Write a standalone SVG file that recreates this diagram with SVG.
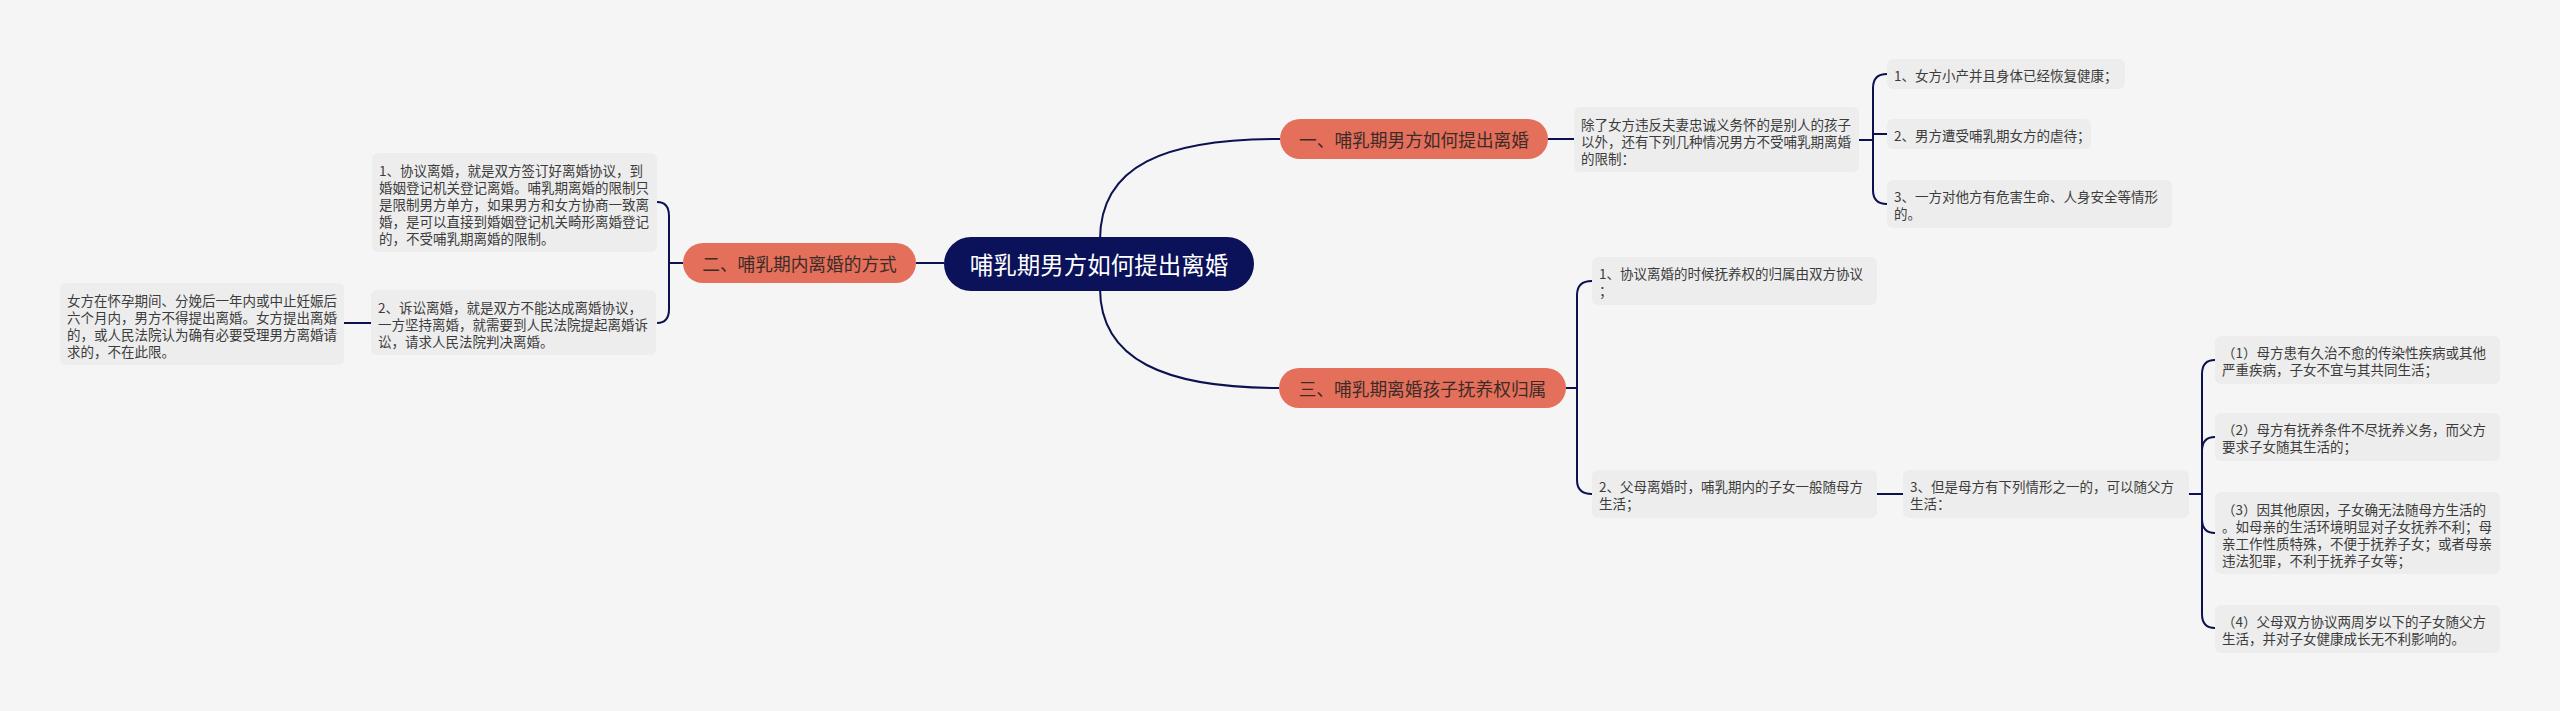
<svg xmlns="http://www.w3.org/2000/svg" width="2560" height="711" viewBox="0 0 2560 711">
<style>
.ln{fill:none;stroke:#0c1150;stroke-width:2}
.box{fill:#ededed}
.t{font-family:"Noto Sans CJK SC","Noto Sans",sans-serif;font-size:13.5px;fill:#3c3c3c;dominant-baseline:central}
.pill{fill:#e4705b}
.pt{font-family:"Noto Sans CJK SC","Noto Sans",sans-serif;font-size:17.7px;fill:#3d2b27;text-anchor:middle;dominant-baseline:central}
.root{fill:#0b1259}
.rt{font-family:"Noto Sans CJK SC","Noto Sans",sans-serif;font-size:23.5px;fill:#ffffff;text-anchor:middle;dominant-baseline:central}
</style>
<rect x="0" y="0" width="2560" height="711" fill="#f5f5f5"/>
<g id="connectors">
<path class="ln" d="M1100,240 C1100,165 1165,139 1280,139"/>
<path class="ln" d="M1100,288 C1100,360 1165,388 1279,388"/>
<path class="ln" d="M944,263 L916,263"/>
<path class="ln" d="M1548,139 L1574,139"/>
<path class="ln" d="M1859,140 L1873,140 M1873,140 L1873,88 Q1873,74 1887,74 M1873,140 L1873,190 Q1873,204 1887,204 M1873,134 L1887,134"/>
<path class="ln" d="M683,263 L669,263 M669,263 L669,216 Q669,202 657,202 M669,263 L669,309 Q669,323 657,323"/>
<path class="ln" d="M371,323 L344,323"/>
<path class="ln" d="M1566,388 L1577,388 M1577,388 L1577,295 Q1577,281 1592,281 M1577,388 L1577,480 Q1577,494 1592,494"/>
<path class="ln" d="M1877,494 L1903,494"/>
<path class="ln" d="M2189,494 L2202,494 M2202,494 L2202,374 Q2202,360 2215,360 M2202,494 L2202,451 Q2202,437 2215,437 M2202,494 L2202,519 Q2202,533 2215,533 M2202,494 L2202,614 Q2202,628 2215,628"/>
</g>
<g id="root">
<rect class="root" x="944" y="237" width="310" height="54" rx="27"/>
<text class="rt" x="1099" y="264">哺乳期男方如何提出离婚</text>
</g>
<g id="n1">
<rect class="pill" x="1280" y="119" width="268" height="40" rx="20"/>
<text class="pt" x="1414" y="139">一、哺乳期男方如何提出离婚</text>
</g>
<g id="n2">
<rect class="pill" x="683" y="243" width="233" height="40" rx="20"/>
<text class="pt" x="799.5" y="263">二、哺乳期内离婚的方式</text>
</g>
<g id="n3">
<rect class="pill" x="1279" y="368" width="287" height="40" rx="20"/>
<text class="pt" x="1422.5" y="388">三、哺乳期离婚孩子抚养权归属</text>
</g>
<g id="n1-0">
<rect class="box" x="1574" y="107" width="285" height="65" rx="6"/>
<text class="t" x="1581" y="123.5">除了女方违反夫妻忠诚义务怀的是别人的孩子</text>
<text class="t" x="1581" y="140.5">以外，还有下列几种情况男方不受哺乳期离婚</text>
<text class="t" x="1581" y="157.5">的限制：</text>
</g>
<g id="n1-1">
<rect class="box" x="1887" y="59" width="238" height="30" rx="6"/>
<text class="t" x="1894" y="74.5">1、女方小产并且身体已经恢复健康；</text>
</g>
<g id="n1-2">
<rect class="box" x="1887" y="119" width="204" height="30" rx="6"/>
<text class="t" x="1894" y="134.5">2、男方遭受哺乳期女方的虐待；</text>
</g>
<g id="n1-3">
<rect class="box" x="1887" y="180" width="285" height="48" rx="6"/>
<text class="t" x="1894" y="196">3、一方对他方有危害生命、人身安全等情形</text>
<text class="t" x="1894" y="213">的。</text>
</g>
<g id="n2-1">
<rect class="box" x="372" y="153" width="285" height="99" rx="6"/>
<text class="t" x="379" y="170">1、协议离婚，就是双方签订好离婚协议，到</text>
<text class="t" x="379" y="187">婚姻登记机关登记离婚。哺乳期离婚的限制只</text>
<text class="t" x="379" y="204">是限制男方单方，如果男方和女方协商一致离</text>
<text class="t" x="379" y="221">婚，是可以直接到婚姻登记机关畸形离婚登记</text>
<text class="t" x="379" y="238">的，不受哺乳期离婚的限制。</text>
</g>
<g id="n2-2">
<rect class="box" x="371" y="290" width="285" height="65" rx="6"/>
<text class="t" x="378" y="306.5">2、诉讼离婚，就是双方不能达成离婚协议，</text>
<text class="t" x="378" y="323.5">一方坚持离婚，就需要到人民法院提起离婚诉</text>
<text class="t" x="378" y="340.5">讼，请求人民法院判决离婚。</text>
</g>
<g id="n2-2-1">
<rect class="box" x="60" y="283" width="284" height="82" rx="6"/>
<text class="t" x="67" y="299.5">女方在怀孕期间、分娩后一年内或中止妊娠后</text>
<text class="t" x="67" y="316.5">六个月内，男方不得提出离婚。女方提出离婚</text>
<text class="t" x="67" y="333.5">的，或人民法院认为确有必要受理男方离婚请</text>
<text class="t" x="67" y="350.5">求的，不在此限。</text>
</g>
<g id="n3-1">
<rect class="box" x="1592" y="257" width="285" height="48" rx="6"/>
<text class="t" x="1599" y="273">1、协议离婚的时候抚养权的归属由双方协议</text>
<text class="t" x="1599" y="290">；</text>
</g>
<g id="n3-2">
<rect class="box" x="1592" y="470" width="285" height="48" rx="6"/>
<text class="t" x="1599" y="486">2、父母离婚时，哺乳期内的子女一般随母方</text>
<text class="t" x="1599" y="503">生活；</text>
</g>
<g id="n3-2-1">
<rect class="box" x="1903" y="470" width="286" height="48" rx="6"/>
<text class="t" x="1910" y="486">3、但是母方有下列情形之一的，可以随父方</text>
<text class="t" x="1910" y="503">生活：</text>
</g>
<g id="c1">
<rect class="box" x="2215" y="336" width="285" height="48" rx="6"/>
<text class="t" x="2222" y="352">（1）母方患有久治不愈的传染性疾病或其他</text>
<text class="t" x="2222" y="369">严重疾病，子女不宜与其共同生活；</text>
</g>
<g id="c2">
<rect class="box" x="2215" y="413" width="285" height="48" rx="6"/>
<text class="t" x="2222" y="429">（2）母方有抚养条件不尽抚养义务，而父方</text>
<text class="t" x="2222" y="446">要求子女随其生活的；</text>
</g>
<g id="c3">
<rect class="box" x="2215" y="492" width="285" height="82" rx="6"/>
<text class="t" x="2222" y="508.5">（3）因其他原因，子女确无法随母方生活的</text>
<text class="t" x="2222" y="525.5">。如母亲的生活环境明显对子女抚养不利；母</text>
<text class="t" x="2222" y="542.5">亲工作性质特殊，不便于抚养子女；或者母亲</text>
<text class="t" x="2222" y="559.5">违法犯罪，不利于抚养子女等；</text>
</g>
<g id="c4">
<rect class="box" x="2215" y="605" width="285" height="48" rx="6"/>
<text class="t" x="2222" y="621">（4）父母双方协议两周岁以下的子女随父方</text>
<text class="t" x="2222" y="638">生活，并对子女健康成长无不利影响的。</text>
</g>
</svg>
